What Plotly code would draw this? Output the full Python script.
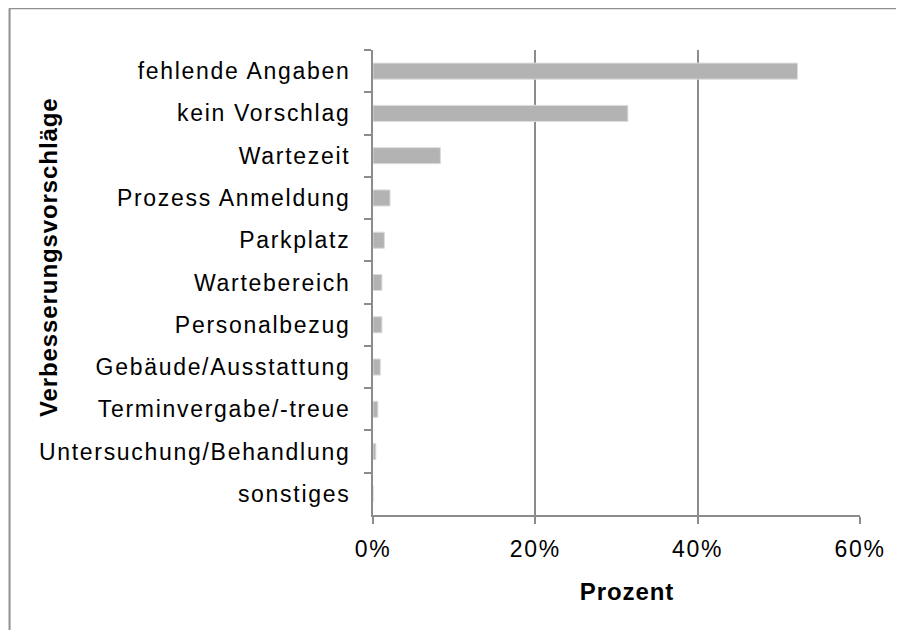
import plotly.graph_objects as go

categories = ["fehlende Angaben", "kein Vorschlag", "Wartezeit", "Prozess Anmeldung",
              "Parkplatz", "Wartebereich", "Personalbezug", "Gebäude/Ausstattung",
              "Terminvergabe/-treue", "Untersuchung/Behandlung", "sonstiges"]
values = [52.3, 31.4, 8.3, 2.1, 1.4, 1.1, 1.1, 0.9, 0.6, 0.35, 0.0]
x_ticks = [0, 20, 40, 60]
x_tick_labels = ["0%", "20%", "40%", "60%"]
x_title = "Prozent"
y_title = "Verbesserungsvorschläge"

OFF = 8  # page body margin offset
W, H = 904 - OFF, 630 - OFF
# plot area in page pixels
PL, PR, PT, PB = 372.5, 860.5, 50.0, 515.0
L, R, T, B = PL - OFF, PR - OFF, PT - OFF, PB - OFF
pw, ph = R - L, B - T

def px(x):
    return (x - OFF - L) / pw

def py(y):
    return (B - (y - OFF)) / ph

FONT = "Liberation Sans, Arial, sans-serif"
GRID = "#8c8c8c"
BORDER = "#8f8f8f"

fig = go.Figure(go.Bar(
    x=values, y=categories, orientation="h",
    marker=dict(color="#b3b3b3", line=dict(color="#dcdcdc", width=1)),
))

fig.update_layout(
    width=W, height=H,
    margin=dict(l=L, r=W - R, t=T, b=H - B),
    paper_bgcolor="white", plot_bgcolor="white",
    bargap=0.62, showlegend=False,
    font=dict(family=FONT, color="black"),
    xaxis=dict(range=[0, 60], tickmode="array", tickvals=x_ticks, ticktext=x_tick_labels,
               showgrid=True, gridcolor=GRID, gridwidth=2,
               showline=True, linecolor=GRID, linewidth=2,
               ticks="outside", ticklen=7, tickwidth=2, tickcolor=GRID,
               tickfont=dict(size=23, family=FONT, color="black"),
               ticklabelstandoff=5, zeroline=False, fixedrange=True),
    yaxis=dict(categoryorder="array", categoryarray=categories, autorange="reversed",
               showline=True, linecolor=GRID, linewidth=2, showgrid=False,
               ticks="outside", tickson="boundaries", ticklen=7, tickwidth=2, tickcolor=GRID,
               tickfont=dict(size=23, family=FONT, color="black"),
               ticklabelstandoff=16, fixedrange=True),
    shapes=[
        dict(type="line", xref="paper", yref="paper",
             x0=px(8.3), y0=py(8.3), x1=px(8.3), y1=py(700),
             line=dict(color=BORDER, width=2), layer="below"),
        dict(type="line", xref="paper", yref="paper",
             x0=px(8.3), y0=py(8.3), x1=px(1200), y1=py(8.3),
             line=dict(color=BORDER, width=2), layer="below"),
    ],
    annotations=[
        dict(text=f"<b>{y_title}</b>", xref="paper", yref="paper",
             x=px(46.5), y=py(257), textangle=-90, showarrow=False,
             xanchor="center", yanchor="middle",
             font=dict(size=24, family=FONT, color="black")),
        dict(text=f"<b>{x_title}</b>", xref="paper", yref="paper",
             x=px(627), y=py(591), showarrow=False,
             xanchor="center", yanchor="middle",
             font=dict(size=24, family=FONT, color="black")),
    ],
)

# Excel-style slightly wider letter spacing of the chart texts
post = """
var gd = document.getElementById('{plot_id}');
gd.querySelectorAll('.ytick text, .xtick text').forEach(function(t){ t.style.letterSpacing = '1.7px'; });
gd.querySelectorAll('.annotation-text').forEach(function(t){ t.style.letterSpacing = '0.9px'; });
"""
fig.write_html("out.html", post_script=post)
